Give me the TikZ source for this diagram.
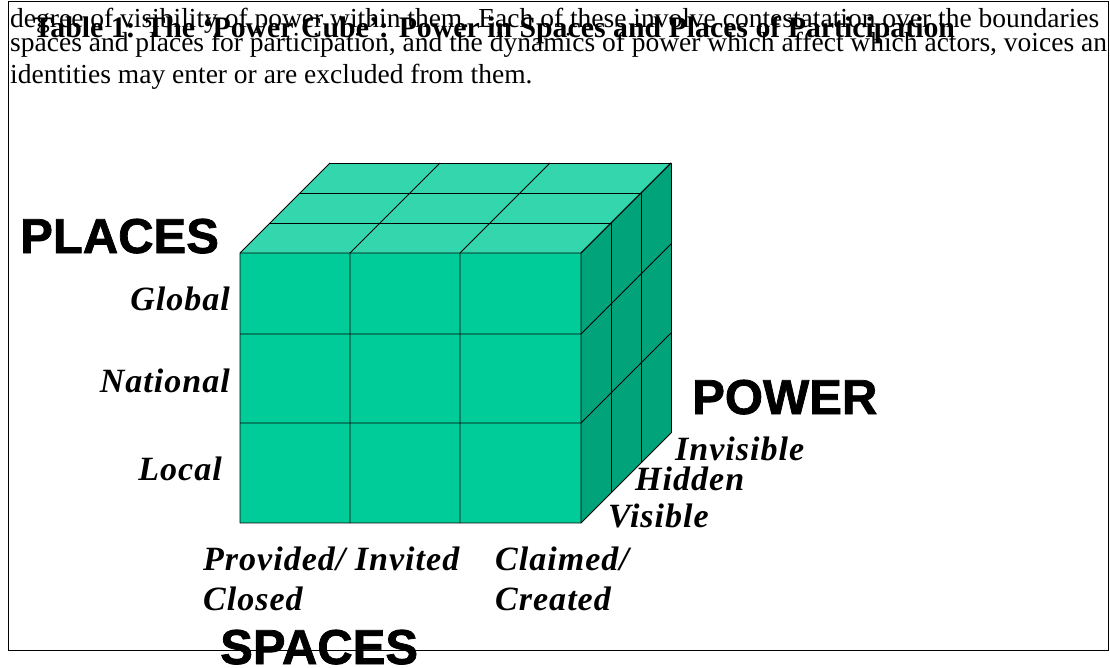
\documentclass[tikz,border=0pt]{standalone}
\usepackage{fontspec}
\setmainfont{Liberation Serif}
\newfontfamily\headfont[BoldFeatures={FakeBold=1.5}]{Liberation Sans}
\newfontfamily\lblfont[LetterSpace=3]{Liberation Serif}
\usetikzlibrary{positioning}

\definecolor{cubefront}{RGB}{0,204,153}
\definecolor{cubetop}{RGB}{51,214,173}
\definecolor{cubeside}{RGB}{0,163,122}

\begin{document}
\begin{tikzpicture}[x=1pt,y=-1pt,
  axislbl/.style={font=\headfont\bfseries\fontsize{49}{49}\selectfont,inner sep=0pt},
  levellbl/.style={font=\lblfont\bfseries\itshape\fontsize{34}{34}\selectfont,inner sep=0pt},
  bodytxt/.style={font=\fontsize{27.5}{27.5}\selectfont,inner sep=0pt,anchor=base west},
  cubegrid/.style={draw=black,line width=0.8pt,line join=round}]
\useasboundingbox (0,0) rectangle (1110,667);

% text above the figure
\node[bodytxt] (line1) at (10,27) {degree of visibility of power within them. Each of these involve contestatation over the boundaries};
\node[bodytxt,font=\bfseries\fontsize{29.8}{29.8}\selectfont] (title) at (33,37) {Table 1: The ‘Power Cube’: Power in Spaces and Places of Participation};
\node[bodytxt] (line2) at (10,51) {spaces and places for participation, and the dynamics of power which affect which actors, voices an};
\node[bodytxt] (line3) at (10,83) {identities may enter or are excluded from them.};
\draw[line width=1pt] (8,1) rectangle (1108,650);

% the cube
\fill[cubefront] (240,253) rectangle (581,523);
\fill[cubetop] (240,253) -- (330,163) -- (671,163) -- (581,253) -- cycle;
\fill[cubeside] (581,253) -- (671,163) -- (671,433) -- (581,523) -- cycle;
\foreach \x in {240,350,460,581}
{ \draw[cubegrid] (\x,253) -- (\x,523) (\x,253) -- ++(90,-90); }
\foreach \y in {253,334,423,523}
{ \draw[cubegrid] (240,\y) -- (581,\y) -- ++(90,-90); }
\foreach \d in {1,2,3}
{ \draw[cubegrid] (240+30*\d,253-30*\d) -- (581+30*\d,253-30*\d) -- ++(0,270); }

% axis names
\node[axislbl,anchor=base west] (places) at (20,253) {PLACES};
\node[axislbl,anchor=base west] (power) at (692,414) {POWER};
\node[axislbl,anchor=base west] (spaces) at (220,664) {SPACES};

% levels
\foreach \t/\x/\y/\n in {Global/230/310/global,National/230/392/national,Local/222/480/local}
{ \node[levellbl,anchor=base east] (\n) at (\x,\y) {\t}; }
\foreach \t/\x/\y/\n in {Invisible/675/460/invisible,Hidden/635/490/hidden,Visible/608/527/visible}
{ \node[levellbl,anchor=base west] (\n) at (\x,\y) {\t}; }
\node[levellbl,anchor=base west] (provided) at (203,570) {Provided/ Invited};
\node[levellbl,anchor=base west] (closed) at (203,610) {Closed};
\node[levellbl,anchor=base west] (claimed) at (495,570) {Claimed/};
\node[levellbl,anchor=base west] (created) at (495,610) {Created};
\end{tikzpicture}
\end{document}
